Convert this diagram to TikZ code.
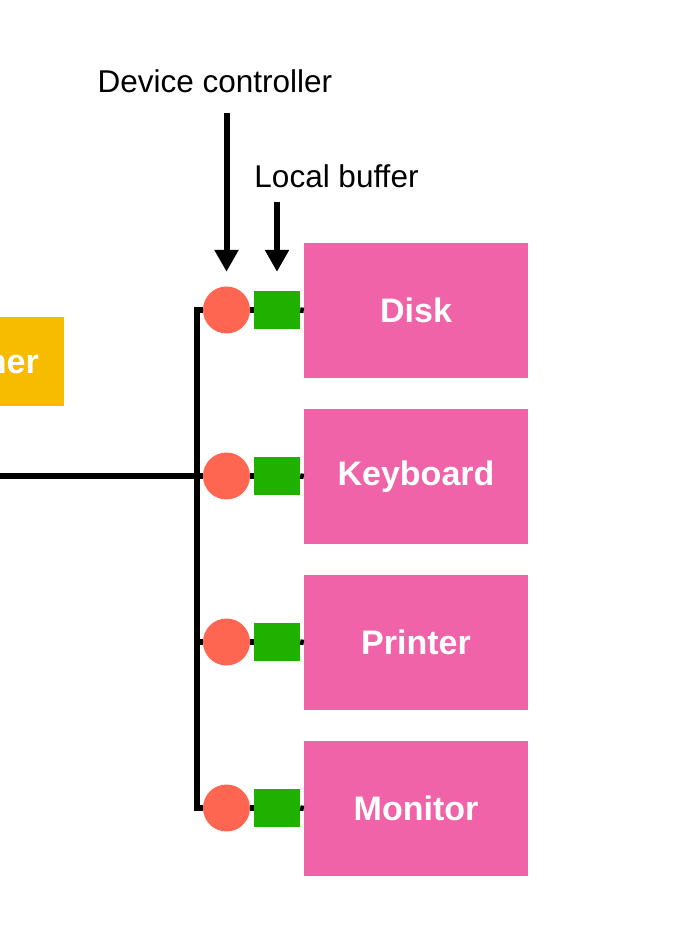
\documentclass[tikz,border=0pt]{standalone}
\usepackage{fontspec}
\setmainfont{Liberation Sans}
\usetikzlibrary{arrows.meta}
\definecolor{devpink}{HTML}{F063A9}
\definecolor{ctrlred}{HTML}{FF6651}
\definecolor{bufgreen}{HTML}{20B000}
\definecolor{cpuyellow}{HTML}{F7BB00}
\tikzset{
  devbox/.style={rectangle, fill=devpink, minimum width=224pt, minimum height=135pt, inner sep=0pt,
    text=white, font=\fontsize{34}{40}\selectfont\bfseries},
  ctrl/.style={circle, fill=ctrlred, minimum size=47pt, inner sep=0pt},
  buf/.style={rectangle, fill=bufgreen, minimum width=46pt, minimum height=38pt, inner sep=0pt},
  lbl/.style={inner sep=0pt, font=\fontsize{31.5}{36}\selectfont},
  bus/.style={line width=5.5pt, line join=miter},
  arr/.style={line width=6pt, -{Triangle[length=22pt,width=23pt]}},
}
\begin{document}
\begin{tikzpicture}[x=1pt,y=-1pt]
\useasboundingbox (0,0) rectangle (674,928);
\clip (0,0) rectangle (674,928);
% yellow box (cut off at left edge)
\node[rectangle, fill=cpuyellow, anchor=east, minimum height=89pt, text width=120pt, align=right,
  inner xsep=25pt, inner ysep=0pt, text=white, font=\fontsize{34}{40}\selectfont\bfseries] (cpu) at (64,361.5) {her};
% devices
\node[devbox] (disk) at (416,310.5) {Disk};
\node[devbox] (kbd) at (416,476.5) {Keyboard};
\node[devbox] (prn) at (416,642.5) {Printer};
\node[devbox] (mon) at (416,808.5) {Monitor};
% controllers
\node[ctrl] (c1) at (226.5,310) {};
\node[ctrl] (c2) at (226.5,476) {};
\node[ctrl] (c3) at (226.5,642) {};
\node[ctrl] (c4) at (226.5,808) {};
% buffers
\node[buf] (g1) at (277,310) {};
\node[buf] (g2) at (277,476) {};
\node[buf] (g3) at (277,642) {};
\node[buf] (g4) at (277,808) {};
% labels
\node[lbl, anchor=base] (dc) at (215,93) {Device controller};
\node[lbl, anchor=base] (lb) at (336.5,187) {Local buffer};
% bus
\coordinate (btop) at (197,310);
\coordinate (bbot) at (197,808);
\coordinate (bmid) at (197,642);
\coordinate (lft) at (-5,476);
\draw[bus] (c1.west) -- (btop) -- (bbot) -- (c4.west);
\draw[bus] (lft) -- (c2.west);
\draw[bus] (bmid) -- (c3.west);
% short links
\foreach \i/\d in {1/disk,2/kbd,3/prn,4/mon}{
  \draw[bus] (c\i.east) -- (g\i.west);
  \draw[bus] (g\i.east) -- (\d.west);
}
% arrows
\draw[arr] ([yshift=-19pt]dc.south -| c1.north) -- ([yshift=14.5pt]c1.north);
\draw[arr] ([yshift=-14pt]lb.south -| g1.north) -- ([yshift=19pt]g1.north);
\end{tikzpicture}
\end{document}
